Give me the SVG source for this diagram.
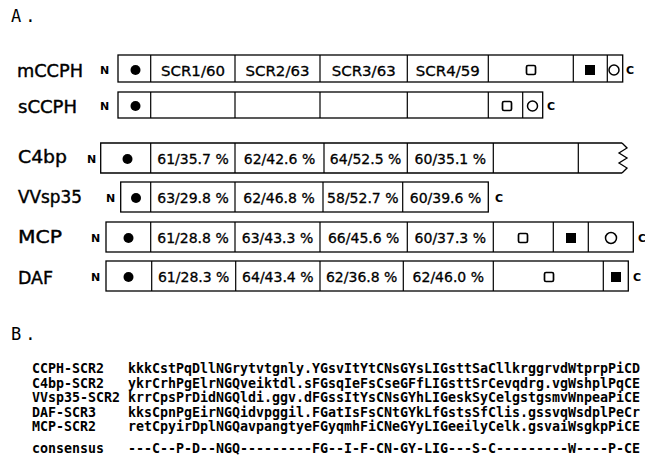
<svg xmlns="http://www.w3.org/2000/svg" width="645" height="463" viewBox="0 0 645 463">
<style>
.bg{fill:#fff}
.box{fill:none;stroke:#000;stroke-width:1.3}
.dv{stroke:#000;stroke-width:1.2}
.lbl{font-family:"DejaVu Sans",sans-serif;font-size:17px;fill:#000;stroke:#000;stroke-width:0.4}
.nc{font-family:"DejaVu Sans",sans-serif;font-size:11px;font-weight:bold;fill:#000}
.cell{font-family:"DejaVu Sans",sans-serif;font-size:14px;text-anchor:middle;fill:#000;stroke:#000;stroke-width:0.3}
.dot{fill:#000}
.osq{fill:none;stroke:#000;stroke-width:1.7}
.fsq{fill:#000}
.oc{fill:none;stroke:#000;stroke-width:1.5}
.hd{font-family:"DejaVu Sans Mono",monospace;font-size:17px;fill:#000;letter-spacing:4px}
.seq{font-family:"DejaVu Sans Mono",monospace;font-size:13.3px;font-weight:bold;fill:#000}
</style>
<rect class="bg" x="0" y="0" width="645" height="463"/>
<text class="hd" x="11" y="22">A.</text>

<g id="mCCPH">
<text class="lbl" x="17" y="76.5" textLength="66" lengthAdjust="spacingAndGlyphs">mCCPH</text>
<text class="nc" x="100" y="74">N</text>
<rect class="box" x="118" y="55" width="504.7" height="27"/>
<path class="dv" d="M150.7,55V82M235,55V82M320,55V82M407.3,55V82M488.3,55V82M573.3,55V82M607.3,55V82"/>
<circle class="dot" cx="135.5" cy="70" r="5"/>
<text class="cell" x="193" y="75.5" textLength="64" lengthAdjust="spacingAndGlyphs">SCR1/60</text>
<text class="cell" x="277.5" y="75.5" textLength="64" lengthAdjust="spacingAndGlyphs">SCR2/63</text>
<text class="cell" x="363.7" y="75.5" textLength="64" lengthAdjust="spacingAndGlyphs">SCR3/63</text>
<text class="cell" x="447.8" y="75.5" textLength="64" lengthAdjust="spacingAndGlyphs">SCR4/59</text>
<rect class="osq" x="526.5" y="65.5" width="9" height="9" rx="1.5"/>
<rect class="fsq" x="585" y="65" width="10" height="10"/>
<circle class="oc" cx="614" cy="70" r="5"/>
<text class="nc" x="626" y="74">C</text>
</g>

<g id="sCCPH">
<text class="lbl" x="18" y="113" textLength="59" lengthAdjust="spacingAndGlyphs">sCCPH</text>
<text class="nc" x="100" y="110">N</text>
<rect class="box" x="118" y="92" width="424.7" height="26"/>
<path class="dv" d="M150.7,92V118M235,92V118M320,92V118M407.3,92V118M488.3,92V118M522.7,92V118"/>
<circle class="dot" cx="135.5" cy="106" r="5"/>
<rect class="osq" x="502.5" y="101.5" width="9" height="9" rx="1.5"/>
<circle class="oc" cx="532.5" cy="106" r="5"/>
<text class="nc" x="547" y="110">C</text>
</g>

<g id="C4bp">
<text class="lbl" x="18" y="163" textLength="49" lengthAdjust="spacingAndGlyphs">C4bp</text>
<text class="nc" x="87" y="163">N</text>
<path class="box" d="M622,143H100.7V173H622"/>
<path class="box" d="M622,143L627,148L619,153L627,158L619,163L627,168L622,173"/>
<path class="dv" d="M150.7,143V173M235,143V173M324,143V173M407.3,143V173M493.3,143V173M578.3,143V173"/>
<circle class="dot" cx="127.5" cy="159" r="5"/>
<text class="cell" x="193" y="163.5">61/35.7 %</text>
<text class="cell" x="279.5" y="163.5">62/42.6 %</text>
<text class="cell" x="365.6" y="163.5">64/52.5 %</text>
<text class="cell" x="450.3" y="163.5">60/35.1 %</text>
</g>

<g id="VVsp35">
<text class="lbl" x="18" y="203" textLength="64" lengthAdjust="spacingAndGlyphs">VVsp35</text>
<text class="nc" x="106" y="202">N</text>
<rect class="box" x="120.7" y="182" width="367.6" height="30"/>
<path class="dv" d="M150.7,182V212M235,182V212M323,182V212M402.7,182V212"/>
<circle class="dot" cx="136" cy="198" r="5"/>
<text class="cell" x="193" y="202.5">63/29.8 %</text>
<text class="cell" x="279" y="202.5">62/46.8 %</text>
<text class="cell" x="362.8" y="202.5">58/52.7 %</text>
<text class="cell" x="445.5" y="202.5">60/39.6 %</text>
<text class="nc" x="495" y="202">C</text>
</g>

<g id="MCP">
<text class="lbl" x="18" y="243" textLength="44" lengthAdjust="spacingAndGlyphs">MCP</text>
<text class="nc" x="91" y="242">N</text>
<rect class="box" x="106" y="222" width="527.3" height="30"/>
<path class="dv" d="M150.7,222V252M235,222V252M320,222V252M407.3,222V252M493.3,222V252M553.3,222V252M588.3,222V252"/>
<circle class="dot" cx="128.5" cy="238" r="5"/>
<text class="cell" x="193" y="242.5">61/28.8 %</text>
<text class="cell" x="277.5" y="242.5">63/43.3 %</text>
<text class="cell" x="363.7" y="242.5">66/45.6 %</text>
<text class="cell" x="450.3" y="242.5">60/37.3 %</text>
<rect class="osq" x="518.5" y="233.5" width="9" height="9" rx="1.5"/>
<rect class="fsq" x="566" y="233" width="10" height="10"/>
<circle class="oc" cx="611" cy="238" r="5.5"/>
<text class="nc" x="638" y="242">C</text>
</g>

<g id="DAF">
<text class="lbl" x="18" y="284" textLength="35" lengthAdjust="spacingAndGlyphs">DAF</text>
<text class="nc" x="91" y="281">N</text>
<rect class="box" x="106" y="261" width="522.3" height="30"/>
<path class="dv" d="M151.7,261V291M235.7,261V291M320,261V291M403.3,261V291M493.3,261V291M603.3,261V291"/>
<circle class="dot" cx="128.5" cy="277" r="5"/>
<text class="cell" x="193.7" y="281.5">61/28.3 %</text>
<text class="cell" x="277.8" y="281.5">64/43.4 %</text>
<text class="cell" x="361.7" y="281.5">62/36.8 %</text>
<text class="cell" x="448.3" y="281.5">62/46.0 %</text>
<rect class="osq" x="544.5" y="272.5" width="9" height="9" rx="1.5"/>
<rect class="fsq" x="611" y="272" width="10" height="10"/>
<text class="nc" x="633" y="281">C</text>
</g>

<text class="hd" x="11" y="340">B.</text>

<g id="alignment">
<text class="seq" x="32" y="373">CCPH-SCR2</text>
<text class="seq" x="128" y="373" textLength="512" lengthAdjust="spacing">kkkCstPqDllNGrytvtgnly.YGsvItYtCNsGYsLIGsttSaCllkrggrvdWtprpPiCD</text>
<text class="seq" x="32" y="387.5">C4bp-SCR2</text>
<text class="seq" x="128" y="387.5" textLength="512" lengthAdjust="spacing">ykrCrhPgElrNGQveiktdl.sFGsqIeFsCseGFfLIGsttSrCevqdrg.vgWshplPqCE</text>
<text class="seq" x="32" y="402">VVsp35-SCR2</text>
<text class="seq" x="128" y="402" textLength="512" lengthAdjust="spacing">krrCpsPrDidNGQldi.ggv.dFGssItYsCNsGYhLIGeskSyCelgstgsmvWnpeaPiCE</text>
<text class="seq" x="32" y="416.5">DAF-SCR3</text>
<text class="seq" x="128" y="416.5" textLength="512" lengthAdjust="spacing">kksCpnPgEirNGQidvpggil.FGatIsFsCNtGYkLfGstsSfClis.gssvqWsdplPeCr</text>
<text class="seq" x="32" y="431">MCP-SCR2</text>
<text class="seq" x="128" y="431" textLength="512" lengthAdjust="spacing">retCpyirDplNGQavpangtyeFGyqmhFiCNeGYyLIGeeilyCelk.gsvaiWsgkpPiCE</text>
<text class="seq" x="32" y="453">consensus</text>
<text class="seq" x="128" y="453" textLength="512" lengthAdjust="spacing">---C--P-D--NGQ---------FG--I-F-CN-GY-LIG---S-C---------W----P-CE</text>
</g>
</svg>
